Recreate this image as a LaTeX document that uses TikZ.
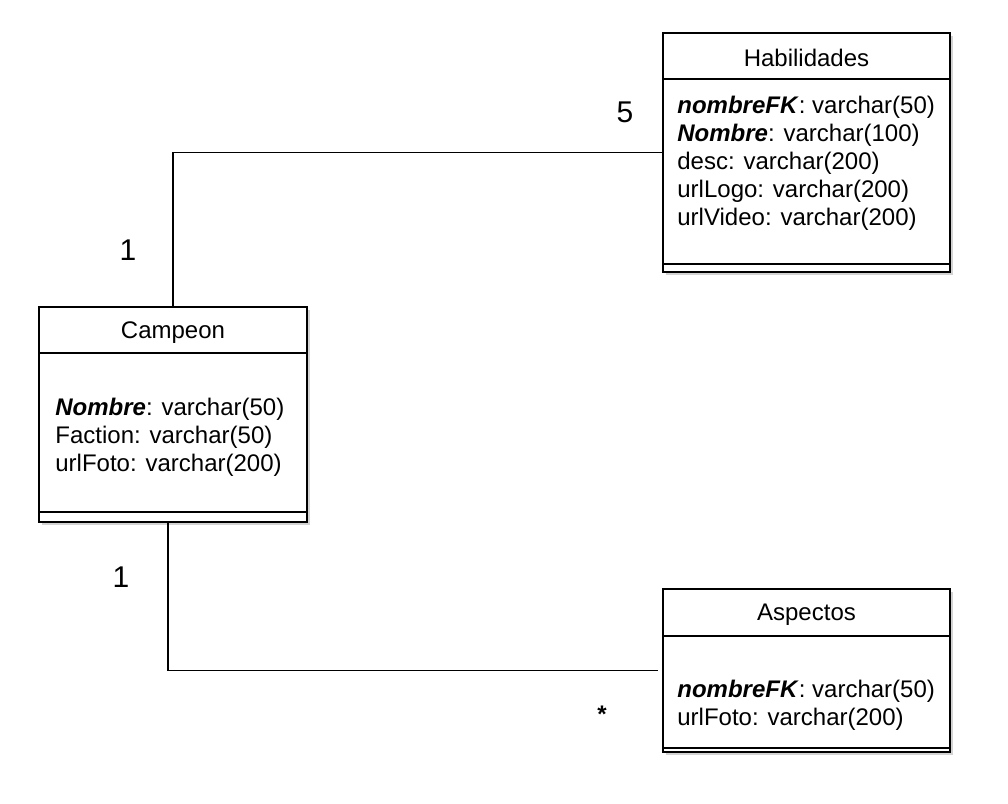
\documentclass[tikz,border=0pt]{standalone}
\usepackage{fontspec}
\setmainfont{Liberation Sans}
\usetikzlibrary{shadows}

\begin{document}
\begin{tikzpicture}[x=0.5pt,y=-0.5pt,
    classbox/.style={draw=black, line width=1pt, fill=white, inner sep=0pt,
        drop shadow={shadow xshift=1.5pt, shadow yshift=-1.5pt, opacity=0.35}},
    attrs/.style={anchor=west, align=left, inner sep=0pt, font=\fontsize{12}{14}\selectfont},
    title/.style={inner sep=0pt, font=\fontsize{12}{14}\selectfont},
    mult/.style={inner sep=0pt, font=\fontsize{15}{17}\selectfont}]
    \useasboundingbox (0,0) rectangle (1008,804);

        % the three tables, use the tuple for location
        \node[classbox, minimum width=143.5pt, minimum height=119.5pt] (hab) at (806.5,152.5) {};
        \node[classbox, minimum width=134pt, minimum height=107.5pt] (camp) at (173,414.5) {};
        \node[classbox, minimum width=143.5pt, minimum height=81.5pt] (asp) at (806.5,670.5) {};

        % header and footer lines
        \begin{scope}[line width=1pt]
        \draw ([yshift=-23.5pt]hab.north west) -- ([yshift=-23.5pt]hab.north east);
        \draw ([yshift=4.5pt]hab.south west) -- ([yshift=4.5pt]hab.south east);
        \draw ([yshift=-23.5pt]camp.north west) -- ([yshift=-23.5pt]camp.north east);
        \draw ([yshift=5.5pt]camp.south west) -- ([yshift=5.5pt]camp.south east);
        \draw ([yshift=-24pt]asp.north west) -- ([yshift=-24pt]asp.north east);
        \draw ([yshift=2.5pt]asp.south west) -- ([yshift=2.5pt]asp.south east);
        \end{scope}

        % titles
        \node[title] (habT) at (806.5,58) {Habilidades};
        \node[title] (campT) at (173,333) {Campeon};
        \node[title] (aspT) at (806.5,615) {Aspectos};

        % attributes
        \node[attrs] (habA) at (677,163) {\textbf{\textit{nombreFK}}: varchar(50)\\
            \textbf{\textit{Nombre}}: varchar(100)\\ desc: varchar(200)\\
            urlLogo: varchar(200)\\ urlVideo: varchar(200)};
        \node[attrs] (campA) at (55,437) {\textbf{\textit{Nombre}}: varchar(50)\\
            Faction: varchar(50)\\ urlFoto: varchar(200)};
        \node[attrs] (aspA) at (677,705) {\textbf{\textit{nombreFK}}: varchar(50)\\
            urlFoto: varchar(200)};

        % relations
        \draw[line width=0.75pt] (camp.north) |- (hab.west);
        \draw[line width=0.75pt] ([xshift=-2.5pt]camp.south) |- ([xshift=-2pt]asp.west);

        % multiplicities
        \node[mult] (m1) at (625,112) {5};
        \node[mult] (m2) at (128,250) {1};
        \node[mult] (m3) at (121,577) {1};
        \node[mult, font=\fontsize{12}{14}\selectfont\bfseries] (m4) at (602,714) {*};

\end{tikzpicture}
\end{document}
